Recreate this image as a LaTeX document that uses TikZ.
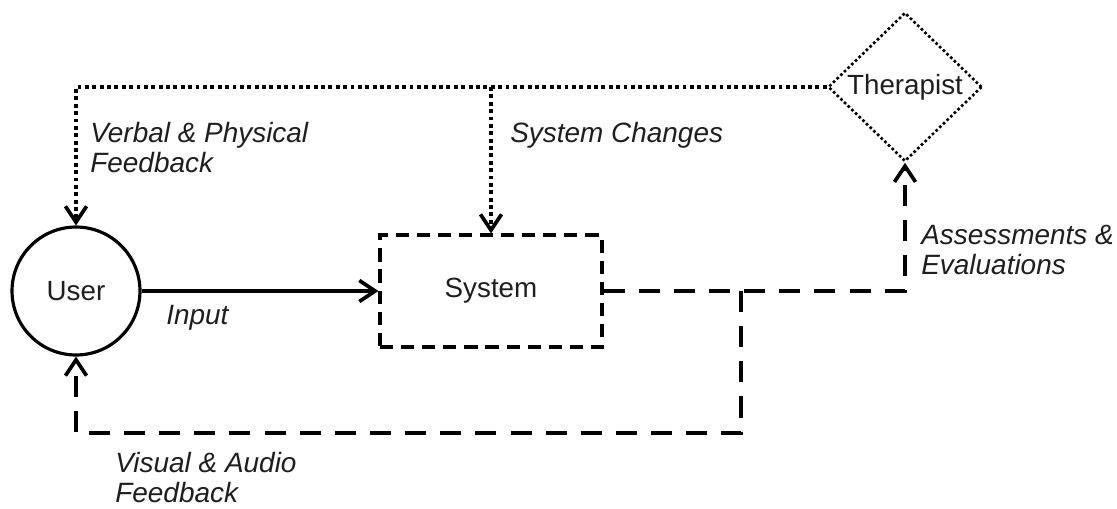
\documentclass[tikz,border=0pt]{standalone}
\usepackage{fontspec}
\setmainfont{Liberation Sans}
\usetikzlibrary{shapes.geometric,arrows.meta}
\definecolor{ink}{HTML}{1E1E1E}
\begin{document}
\begin{tikzpicture}[x=0.02cm,y=-0.02cm,
  font=\fontsize{15.8pt}{17pt}\selectfont,
  tip/.style={-{Straight Barb[length=9pt,width=12pt,line width=2.1pt]}},
  solidline/.style={line width=2.2pt,tip},
  dotline/.style={line width=2.2pt,dash pattern=on 2.2pt off 2pt,tip},
  dashline/.style={line width=2.8pt,dash pattern=on 12pt off 8pt,tip},
  lbl/.style={anchor=north west,inner sep=0pt,align=left,text=ink,
    font=\fontsize{15.9pt}{17pt}\selectfont\itshape}]
  \useasboundingbox (0,0) rectangle (1117,508);

  % actors and the system
  \node[circle,draw,line width=1.8pt,minimum size=2.56cm,inner sep=0pt,text=ink] (user) at (76,291) {User};
  \node[rectangle,draw,line width=1.8pt,dash pattern=on 7.5pt off 4.5pt,text=ink,
        minimum width=4.44cm,minimum height=2.24cm,inner sep=0pt] (sys) at (491,291) {System};
  \node[diamond,draw,line width=1.5pt,dash pattern=on 1.5pt off 1.4pt,text=ink,
        minimum width=3.08cm,minimum height=2.98cm,inner sep=0pt] (ther) at (905,87) {Therapist};

  % branch point of the output loop
  \coordinate (br) at (741,291);

  % therapist feedback (dotted)
  \draw[dotline] (ther.west) -| (user.north);
  \draw[dotline] (ther.west -| sys.north) -- (sys.north);

  % user input
  \draw[solidline] (user.east) -- (sys.west);

  % system output (dashed)
  \draw[dashline] (sys.east) -| (ther.south);
  \draw[dashline] (br) -- (br |- 0,433) -| (user.south);

  % labels
  \node[lbl] (l1) at (90,122) {Verbal \& Physical\\Feedback};
  \node[lbl] (l2) at (510,122) {System Changes};
  \node[lbl] (l3) at (166,305) {Input};
  \node[lbl] (l4) at (921,225) {Assessments \&\\Evaluations};
  \node[lbl] (l5) at (115,452) {Visual \& Audio\\Feedback};
\end{tikzpicture}
\end{document}
